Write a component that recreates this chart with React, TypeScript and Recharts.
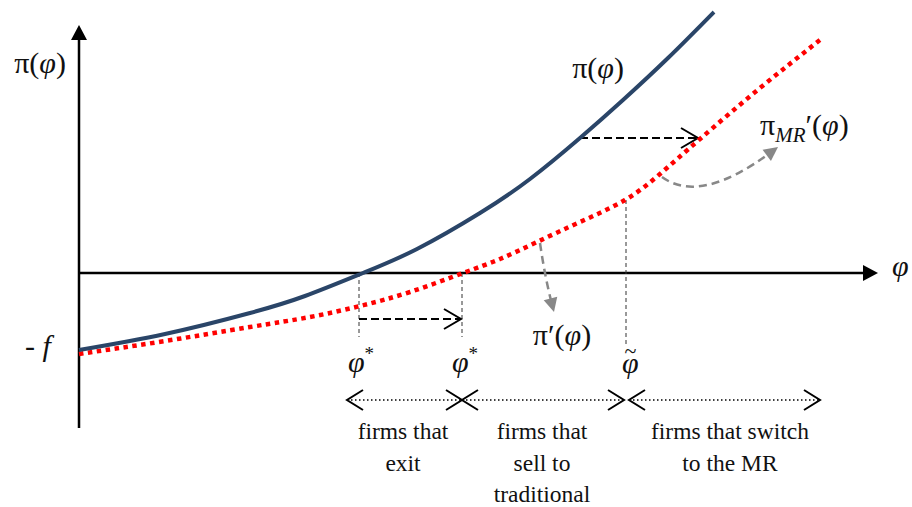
import React from 'react';
import { ComposedChart, Line, XAxis, YAxis, ReferenceLine, ReferenceDot } from 'recharts';

// profit curves (phi on x, profit on y)
const piPhi = [0, 0.86, 1.71, 2.26, 2.84, 3.38, 4.01, 4.51, 5.01, 5.44, 5.89, 6.35];
const piVals = [-0.77, -0.61, -0.4, -0.23, 0, 0.24, 0.6, 0.94, 1.35, 1.73, 2.15, 2.61];
const piPrimePhi = [0, 0.86, 1.71, 2.31, 2.81, 3.31, 3.84, 4.21, 4.58, 5.01, 5.46, 5.81, 6.21, 6.81, 7.41];
const piPrimeVals = [-0.81, -0.68, -0.54, -0.44, -0.33, -0.19, 0, 0.14, 0.31, 0.51, 0.73, 0.99, 1.34, 1.85, 2.33];

// cut-offs
const phiStarOld = 2.8;
const phiStarNew = 3.83;
const phiTilde = 5.47;
const phiAxisEnd = 7.99;
const piAxisTop = 2.48;
const piAxisBottom = -1.55;

const regionLabels = [
  ['firms that', 'exit'],
  ['firms that', 'sell to', 'traditional'],
  ['firms that switch', 'to the MR'],
];
const regionCenters = [3.24, 4.63, 6.51];
const regionEdges = [2.68, phiStarNew, 5.45, 5.5, 7.41];

const piData = piPhi.map((x, i) => ({ x, y: piVals[i] }));
const piPrimeData = piPrimePhi.map((x, i) => ({ x, y: piPrimeVals[i] }));

const FONT = "'Liberation Serif', serif";

type Head = 'none' | 'open' | 'solid';
interface ArrowStyle {
  color: string;
  width: number;
  dash?: string;
  start?: Head;
  end?: Head;
  bend?: [number, number];
  len?: number;
  half?: number;
  headWidth?: number;
}

const drawHead = (tx: number, ty: number, dx: number, dy: number, kind: Head, s: ArrowStyle, key: string) => {
  if (kind === 'none') return null;
  const len = s.len ?? 15;
  const half = s.half ?? 9;
  const bx = tx - dx * len;
  const by = ty - dy * len;
  const px = -dy * half;
  const py = dx * half;
  const pts = `${bx + px},${by + py} ${tx},${ty} ${bx - px},${by - py}`;
  if (kind === 'open') {
    return <polyline key={key} points={pts} fill="none" stroke={s.color} strokeWidth={s.headWidth ?? s.width} />;
  }
  return <polygon key={key} points={pts} fill={s.color} stroke="none" />;
};

const arrow = (s: ArrowStyle) => (p: any) => {
  const { x1, y1, x2, y2 } = p;
  if (![x1, y1, x2, y2].every(Number.isFinite)) return <g />;
  const [ox, oy] = s.bend ?? [0, 0];
  const curved = ox !== 0 || oy !== 0;
  const cx = (x1 + x2) / 2 + ox;
  const cy = (y1 + y2) / 2 + oy;
  const unit = (ax: number, ay: number) => {
    const l = Math.hypot(ax, ay) || 1;
    return [ax / l, ay / l];
  };
  const [ex, ey] = curved ? unit(x2 - cx, y2 - cy) : unit(x2 - x1, y2 - y1);
  const [sx, sy] = curved ? unit(x1 - cx, y1 - cy) : unit(x1 - x2, y1 - y2);
  // pull the stroke back under solid heads
  const cutE = s.end === 'solid' ? (s.len ?? 15) * 0.6 : 0;
  const cutS = s.start === 'solid' ? (s.len ?? 15) * 0.6 : 0;
  const ax = x1 - sx * cutS;
  const ay = y1 - sy * cutS;
  const bx = x2 - ex * cutE;
  const by = y2 - ey * cutE;
  const d = curved ? `M${ax},${ay} Q${cx},${cy} ${bx},${by}` : `M${ax},${ay} L${bx},${by}`;
  return (
    <g>
      <path d={d} fill="none" stroke={s.color} strokeWidth={s.width} strokeDasharray={s.dash} />
      {drawHead(x1, y1, sx, sy, s.start ?? 'none', s, 's')}
      {drawHead(x2, y2, ex, ey, s.end ?? 'none', s, 'e')}
    </g>
  );
};

const note = (content: React.ReactNode, size: number, anchor: 'start' | 'middle' | 'end') => (p: any) => {
  if (!Number.isFinite(p.cx) || !Number.isFinite(p.cy)) return <g />;
  return (
    <text x={p.cx} y={p.cy} fontSize={size} fontFamily={FONT} textAnchor={anchor} fill="#111">
      {content}
    </text>
  );
};

const axisStyle: ArrowStyle = { color: '#000', width: 2.5, end: 'solid', len: 15, half: 8 };
const dropStyle: ArrowStyle = { color: '#333', width: 1, dash: '4 3' };
const shiftStyle: ArrowStyle = { color: '#000', width: 2, dash: '8 4', end: 'open', len: 17, half: 10 };
const rangeStyle: ArrowStyle = { color: '#000', width: 1.6, dash: '1.5 2.5', start: 'open', end: 'open', len: 16, half: 10, headWidth: 2 };
const pointerStyle: ArrowStyle = { color: '#888', width: 2.5, dash: '8 5', end: 'solid', len: 14, half: 7 };

const phi = <tspan fontStyle="italic">φ</tspan>;
const MATH = 30;

export default function App() {
  return (
    <div style={{ position: 'absolute', left: 0, top: 0, width: 912, height: 507, background: '#fff' }}>
      <ComposedChart width={912} height={507} margin={{ top: 0, right: 0, bottom: 0, left: 0 }}>
        <XAxis type="number" dataKey="x" domain={[-0.79, 8.33]} allowDataOverflow hide />
        <YAxis type="number" domain={[-2.34, 2.73]} allowDataOverflow hide />

        {/* axes */}
        <ReferenceLine segment={[{ x: 0, y: piAxisBottom }, { x: 0, y: piAxisTop }]} shape={arrow(axisStyle)} />
        <ReferenceLine segment={[{ x: 0, y: 0 }, { x: phiAxisEnd, y: 0 }]} shape={arrow(axisStyle)} />

        {/* drop lines */}
        <ReferenceLine segment={[{ x: phiStarOld, y: 0 }, { x: phiStarOld, y: -0.64 }]} shape={arrow(dropStyle)} />
        <ReferenceLine segment={[{ x: phiStarNew, y: 0 }, { x: phiStarNew, y: -0.64 }]} shape={arrow(dropStyle)} />
        <ReferenceLine segment={[{ x: phiTilde, y: 0.73 }, { x: phiTilde, y: -0.72 }]} shape={arrow(dropStyle)} />

        {/* shifts */}
        <ReferenceLine segment={[{ x: phiStarOld, y: -0.46 }, { x: 3.82, y: -0.46 }]} shape={arrow(shiftStyle)} />
        <ReferenceLine segment={[{ x: 5.01, y: 1.35 }, { x: 6.19, y: 1.35 }]} shape={arrow(shiftStyle)} />

        {/* pointers to curve labels */}
        <ReferenceLine segment={[{ x: 4.61, y: 0.3 }, { x: 4.75, y: -0.39 }]} shape={arrow({ ...pointerStyle, bend: [-2, 0] })} />
        <ReferenceLine segment={[{ x: 5.83, y: 0.96 }, { x: 6.99, y: 1.26 }]} shape={arrow({ ...pointerStyle, bend: [-20, 43] })} />

        {/* region ranges */}
        <ReferenceLine segment={[{ x: regionEdges[0], y: -1.27 }, { x: regionEdges[1], y: -1.27 }]} shape={arrow(rangeStyle)} />
        <ReferenceLine segment={[{ x: regionEdges[1], y: -1.27 }, { x: regionEdges[2], y: -1.27 }]} shape={arrow(rangeStyle)} />
        <ReferenceLine segment={[{ x: regionEdges[3], y: -1.27 }, { x: regionEdges[4], y: -1.27 }]} shape={arrow(rangeStyle)} />

        <Line
          data={piPrimeData}
          dataKey="y"
          type="natural"
          stroke="#ff0000"
          strokeWidth={4.5}
          strokeDasharray="4.5 4.5"
          dot={false}
          activeDot={false}
          isAnimationActive={false}
        />
        <Line
          data={piData}
          dataKey="y"
          type="natural"
          stroke="#2a4568"
          strokeWidth={4}
          dot={false}
          activeDot={false}
          isAnimationActive={false}
        />

        {/* math labels */}
        <ReferenceDot x={-0.39} y={2.0} shape={note(<>π({phi})</>, MATH, 'middle')} />
        <ReferenceDot x={5.19} y={1.95} shape={note(<>π({phi})</>, MATH, 'middle')} />
        <ReferenceDot
          x={6.81}
          y={1.38}
          shape={note(
            <>
              π<tspan fontStyle="italic" fontSize={21} dy={7}>MR</tspan>
              <tspan dy={-7}>′({phi})</tspan>
            </>,
            MATH,
            'start'
          )}
        />
        <ReferenceDot x={4.83} y={-0.72} shape={note(<>π′({phi})</>, MATH, 'middle')} />
        <ReferenceDot
          x={2.69}
          y={-0.99}
          shape={note(<>{phi}<tspan fontSize={19} dy={-12}>*</tspan></>, MATH, 'start')}
        />
        <ReferenceDot
          x={3.73}
          y={-0.99}
          shape={note(<>{phi}<tspan fontSize={19} dy={-12}>*</tspan></>, MATH, 'start')}
        />
        {/* phi-tilde: the combining mark doesn't stack in this font, so the tilde is nudged on top */}
        <ReferenceDot
          x={5.43}
          y={-1.0}
          shape={note(<>{phi}<tspan fontSize={22} dx={-14} dy={-15}>~</tspan></>, MATH, 'start')}
        />
        <ReferenceDot x={-0.54} y={-0.83} shape={note(<>-  <tspan fontStyle="italic">f</tspan></>, MATH, 'start')} />
        <ReferenceDot x={8.13} y={-0.03} shape={note(phi, MATH, 'start')} />

        {/* region captions */}
        {regionLabels.map((lines, i) =>
          lines.map((t, j) => (
            <ReferenceDot
              key={`r${i}-${j}`}
              x={regionCenters[i]}
              y={-1.66 - 0.315 * j}
              shape={note(t, 23.5, 'middle')}
            />
          ))
        )}
      </ComposedChart>
    </div>
  );
}
